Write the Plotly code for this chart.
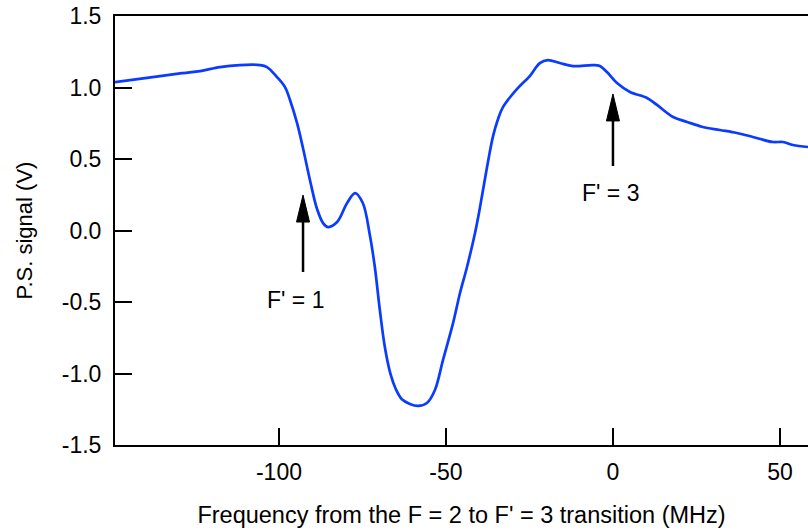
import plotly.graph_objects as go

# Frequency (MHz) and P.S. signal (V)
freq = [-149.1, -135.6, -128.7, -123.6, -117.7, -111.7, -105.7, -103.6, -100.6, -98.2,
        -96.7, -94.6, -92.8, -90.7, -88.6, -86.8, -85.3, -82.6, -79.6, -77.2,
        -74.9, -72.8, -71.3, -69.8, -68.3, -66.6, -65.0, -63.2, -60.8, -58.4, -55.7,
        -53.3, -50.9, -47.9, -45.8, -43.7, -41.3, -39.8, -37.7, -35.9, -34.4, -32.9,
        -28.7, -24.9, -21.9, -19.5, -15.9, -12.0, -6.0, -3.9, -1.8, 1.2,
        5.1, 10.2, 13.2, 18.0, 22.2, 26.9, 32.0, 37.1, 41.9, 47.9,
        50.9, 53.9, 58.4]
signal = [1.038, 1.080, 1.101, 1.115, 1.143, 1.157, 1.157, 1.143, 1.073, 1.003,
          0.913, 0.752, 0.575, 0.35, 0.150, 0.052, 0.024, 0.059, 0.192, 0.262,
          0.192, -0.031, -0.255, -0.556, -0.815, -1.005, -1.110, -1.180, -1.213, -1.227, -1.206,
          -1.115, -0.906, -0.650, -0.437, -0.255, -0.017, 0.164, 0.444, 0.660, 0.780, 0.865,
          0.990, 1.080, 1.171, 1.192, 1.171, 1.150, 1.157, 1.150, 1.108, 1.031,
          0.969, 0.927, 0.878, 0.794, 0.759, 0.724, 0.703, 0.682, 0.654, 0.619,
          0.619, 0.598, 0.584]

x_tickvals = [-100, -50, 0, 50]
x_ticktext = ["-100", "-50", "0", "50"]
y_tickvals = [-1.5, -1.0, -0.5, 0.0, 0.5, 1.0, 1.5]
y_ticktext = ["-1.5", "-1.0", "-0.5", "0.0", "0.5", "1.0", "1.5"]

# annotations: label, arrow x, arrow tip y, arrow tail y, label x, label y
ann_labels = ["F' = 1", "F' = 3"]
ann_x = [-92.8, 0.0]
ann_tip = [0.248, 0.955]
ann_tail = [-0.29, 0.451]
ann_text_x = [-95.0, -0.6]
ann_text_y = [-0.486, 0.262]

FONT = "Liberation Sans, Arial, Helvetica, sans-serif"

fig = go.Figure()
fig.add_trace(go.Scatter(x=freq, y=signal, mode="lines",
                         line=dict(color="#0a3cff", width=2.7, shape="spline", smoothing=1.0),
                         hoverinfo="skip", showlegend=False))

for lab, x, tip, tail, tx, ty in zip(ann_labels, ann_x, ann_tip, ann_tail, ann_text_x, ann_text_y):
    fig.add_shape(type="line", xref="x", yref="y", x0=x, x1=x, y0=tail, y1=tip - 0.12,
                  line=dict(color="black", width=2.5))
    fig.add_shape(type="path", xref="x", yref="y", xsizemode="pixel", ysizemode="pixel",
                  xanchor=x, yanchor=tip, path="M0,0 L-6.5,-27 L6.5,-27 Z",
                  fillcolor="black", line=dict(color="black", width=1))
    fig.add_annotation(x=tx, y=ty, xref="x", yref="y", text=lab, showarrow=False,
                       font=dict(family=FONT, size=23, color="black"))

fig.update_layout(
    width=808, height=531,
    margin=dict(l=115, r=0, t=16, b=86),
    paper_bgcolor="white", plot_bgcolor="white",
    font=dict(family=FONT, size=23, color="black"),
    xaxis=dict(range=[-149.1, 58.4], tickvals=x_tickvals, ticktext=x_ticktext,
               ticks="inside", ticklen=17, tickwidth=2, tickcolor="black",
               showline=True, linewidth=2, linecolor="black", mirror=True,
               showgrid=False, zeroline=False,
               title=dict(text="Frequency from the F = 2 to F' = 3 transition (MHz)",
                          font=dict(size=23.5), standoff=23),
               ticklabelstandoff=5),
    yaxis=dict(range=[-1.5, 1.5], tickvals=y_tickvals, ticktext=y_ticktext,
               ticks="inside", ticklen=17, tickwidth=2, tickcolor="black",
               showline=True, linewidth=2, linecolor="black", mirror=False,
               showgrid=False, zeroline=False,
               title=dict(text="P.S. signal (V)", font=dict(size=22), standoff=23),
               ticklabelstandoff=7),
)

fig.write_html("out.html")
